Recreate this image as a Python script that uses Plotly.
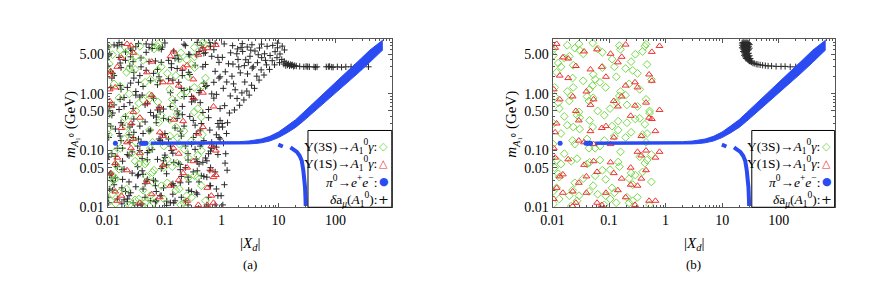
import plotly.graph_objects as go

# ---------------- data ----------------
# |X_d| positions used along rows of the scatter clouds
T1 = [0.0104, 0.0122, 0.0171, 0.0193, 0.0268, 0.0384, 0.0417, 0.0602, 0.0871, 0.0953, 0.139, 0.204, 0.231, 0.342, 0.487, 0.55, 0.81]
T2 = [0.0113, 0.0147, 0.0158, 0.0236, 0.0311, 0.0452, 0.0531, 0.0748, 0.108, 0.117, 0.166, 0.257, 0.297, 0.401, 0.62, 0.73, 0.9]
T3 = [0.0101, 0.0136, 0.0205, 0.0221, 0.0287, 0.0346, 0.0496, 0.0687, 0.0794, 0.126, 0.152, 0.188, 0.276, 0.373, 0.44, 0.67, 0.86]
T4 = [0.0118, 0.0129, 0.0182, 0.0252, 0.0279, 0.0402, 0.0565, 0.0637, 0.0912, 0.131, 0.144, 0.219, 0.318, 0.359, 0.52, 0.59, 0.77]
T5 = [0.0108, 0.0165, 0.0177, 0.0244, 0.0335, 0.0366, 0.0473, 0.0712, 0.0832, 0.101, 0.176, 0.196, 0.264, 0.421, 0.468, 0.64, 0.94]

# panel (a): delta a_mu crosses (m_A1 in GeV)
a_black_rows = [
    (T1, [0.012, 2.3, 0.31, 0.047, 5.8, 0.14, 0.021, 0.9, 3.6, 0.066, 0.017, 0.43, 7.1, 0.105, 1.55, 0.034, 0.19]),
    (T2, [0.27, 0.014, 4.4, 0.081, 1.1, 0.026, 6.6, 0.52, 0.039, 0.16, 2.8, 0.011, 0.72, 0.058, 8.0, 0.12, 1.9]),
    (T3, [3.1, 0.057, 0.019, 1.3, 0.36, 7.7, 0.092, 0.029, 2.0, 0.6, 0.013, 0.22, 4.9, 0.044, 0.13, 1.0, 0.016]),
    (T4, [0.088, 0.64, 0.031, 6.2, 0.17, 0.0115, 1.7, 0.41, 0.053, 3.4, 0.024, 0.27, 0.82, 0.071, 5.3, 0.015, 2.5]),
    (T5, [0.021, 1.4, 7.4, 0.26, 0.036, 0.1, 2.6, 0.013, 0.48, 0.075, 4.1, 0.18, 0.028, 1.15, 0.062, 6.9, 0.34]),
    (T3, [0.49, 0.033, 3.9, 0.0125, 0.21, 1.6, 0.069, 0.024, 6.4, 0.12, 0.77, 0.046, 2.2, 0.017, 0.3, 4.6, 0.085]),
    (T5, [5.1, 0.18, 0.046, 0.7, 0.011, 2.1, 0.029, 0.39, 0.15, 7.9, 0.06, 1.25, 0.02, 0.23, 3.0, 0.098, 0.55]),
    (T2, [0.04, 7.0, 0.2, 0.016, 0.95, 0.32, 3.7, 0.07, 0.0108, 1.85, 0.5, 0.034, 0.13, 5.6, 0.024, 0.84, 0.26]),
    (T4, [1.9, 0.025, 0.11, 4.5, 0.55, 0.044, 0.013, 0.84, 0.19, 2.9, 0.062, 7.5, 0.34, 0.018, 1.35, 0.088, 0.042]),
    (T1, [0.077, 0.46, 1.2, 0.0135, 0.29, 4.3, 0.038, 0.104, 6.1, 0.022, 1.75, 0.6, 0.05, 3.2, 0.15, 0.011, 0.98]),
    (T3, [0.015, 0.24, 5.5, 0.085, 2.4, 0.038, 0.68, 0.0125, 0.16, 1.05, 4.2, 0.027, 0.4, 0.064, 7.2, 0.11, 0.3]),
    (T5, [0.6, 3.5, 0.022, 0.14, 0.052, 0.88, 7.6, 0.31, 0.016, 0.2, 1.6, 0.035, 5.0, 0.12, 0.47, 0.024, 2.0]),
    (T2, [2.5, 0.11, 0.53, 0.028, 6.8, 0.015, 0.22, 1.45, 0.056, 3.9, 0.37, 0.088, 0.019, 1.05, 0.045, 6.0, 0.17]),
    (T4, [0.033, 7.3, 0.28, 1.55, 0.012, 0.072, 0.47, 2.3, 0.14, 0.025, 5.7, 0.9, 0.042, 0.2, 3.3, 0.53, 0.011]),
    (T1, [0.17, 0.02, 2.9, 0.6, 0.095, 0.011, 1.35, 6.3, 0.048, 0.37, 0.026, 2.6, 0.12, 0.78, 5.2, 0.066, 0.021]),
    (T3, [6.7, 0.079, 0.4, 0.014, 1.9, 0.16, 0.031, 3.8, 0.58, 0.012, 0.25, 0.057, 1.2, 8.1, 0.036, 0.14, 4.4]),
    (T5, [0.037, 0.8, 0.0115, 3.1, 0.12, 0.27, 5.4, 0.019, 1.7, 0.083, 0.44, 0.015, 2.4, 0.7, 6.5, 0.05, 0.16]),
    (T2, [1.3, 0.052, 8.0, 0.19, 0.023, 0.64, 0.1, 2.7, 0.0128, 0.35, 4.8, 0.068, 0.9, 0.028, 0.23, 1.6, 3.6]),
    (T4, [0.42, 2.1, 0.065, 0.018, 3.7, 0.95, 0.23, 0.03, 6.7, 0.1, 0.012, 1.15, 0.17, 4.9, 0.074, 0.38, 7.8]),
    (T1, [4.7, 0.029, 0.15, 0.86, 0.04, 3.0, 0.2, 7.5, 0.016, 0.54, 0.09, 2.1, 0.013, 0.28, 0.035, 1.4, 0.115]),
]
a_black_extra = [  # crosses beyond |X_d| ~ 1 : edge, wedge above the band, tail at ~3 GeV
    (1.05, 0.011), (1.12, 0.025), (1.25, 0.045), (1.18, 0.088), (1.08, 0.135), (1.22, 0.2),
    (1.02, 0.3), (0.98, 0.016), (1.15, 0.06),
    (1.04, 0.26), (1.07, 1.25), (1.03, 4.4), (1.13, 0.62), (1.16, 2.45), (1.11, 7.6), (1.27, 0.31),
    (1.23, 1.62), (1.37, 0.46), (1.42, 0.92), (1.44, 5.3), (1.52, 2.05), (1.58, 3.35), (1.56, 7.1),
    (1.68, 0.52), (1.73, 1.18), (1.87, 0.83), (1.94, 4.05), (1.91, 6.2), (2.07, 0.63), (2.13, 2.35),
    (2.27, 1.04), (2.34, 5.6), (2.31, 7.7), (2.46, 0.78), (2.55, 1.62), (2.51, 3.15), (2.77, 1.12),
    (2.85, 2.25), (2.82, 6.7), (3.05, 0.95), (3.15, 4.6), (3.36, 1.42), (3.45, 2.85), (3.41, 7.35),
    (3.78, 1.25), (3.85, 5.7), (4.15, 2.05), (4.26, 3.55), (4.55, 1.75), (4.63, 6.45), (4.95, 2.65),
    (5.05, 4.35), (5.02, 7.55), (5.55, 2.15), (5.68, 5.1), (6.15, 3.25), (6.3, 6.9), (6.95, 2.7),
    (7.1, 4.75), (7.75, 3.85), (7.9, 7.15), (8.5, 3.25), (8.7, 5.55), (9.4, 4.35), (9.6, 6.5),
    (9.55, 7.85), (10.4, 3.55), (10.6, 5.05), (11.4, 4.05), (11.6, 6.95), (12.4, 3.35), (12.6, 3.75),
    (12.7, 5.95), (13.4, 3.15), (13.6, 3.5), (1.62, 1.5), (2.0, 3.0), (2.65, 4.0), (3.6, 3.0),
    (4.4, 4.9), (5.9, 3.9), (1.32, 3.4), (1.85, 5.1), (2.2, 6.6), (3.25, 5.9), (2.95, 3.6),
    (14.4, 3.22), (14.9, 3.38), (15.6, 3.12), (16.3, 3.3), (16.9, 3.18), (17.7, 3.25), (18.4, 3.05),
    (19.2, 3.15), (20.5, 3.1), (23.5, 3.05), (27.8, 3.0), (30.5, 3.05), (32.5, 3.02), (34.8, 3.0),
    (42, 3.0), (44.5, 2.95), (47.5, 3.0), (69, 3.0), (75, 3.02), (79, 3.05), (86, 2.97), (91, 2.95),
    (108, 3.0), (128, 2.95), (152, 3.0), (188, 3.0), (218, 2.96), (248, 3.0), (285, 3.0), (380, 3.0),
]

U1 = [0.0112, 0.0158, 0.0263, 0.0312, 0.0611, 0.0782, 0.157, 0.243, 0.38]
U2 = [0.0129, 0.0214, 0.0241, 0.0477, 0.0758, 0.0964, 0.192, 0.297, 0.46]
U3 = [0.0106, 0.0166, 0.0351, 0.0418, 0.0649, 0.123, 0.166, 0.258, 0.52]
U4 = [0.0121, 0.0197, 0.0302, 0.0453, 0.0541, 0.111, 0.181, 0.331, 0.44]
U5 = [0.0103, 0.0138, 0.0238, 0.0367, 0.0559, 0.0871, 0.136, 0.219, 0.335]
a_green_rows = [
    (U1, [0.013, 0.85, 0.09, 4.6, 0.028, 0.31, 2.1, 0.016, 0.55]),
    (U2, [1.5, 0.021, 0.42, 0.064, 6.8, 0.12, 0.011, 3.3, 0.19]),
    (U3, [0.25, 5.9, 0.014, 0.78, 0.045, 1.2, 0.17, 0.033, 7.4]),
    (U4, [0.037, 0.16, 2.7, 0.012, 0.95, 0.07, 4.1, 0.48, 0.024]),
    (U5, [7.0, 0.056, 0.011, 0.36, 1.8, 0.024, 0.6, 0.105, 2.9]),
    (U1, [0.64, 0.018, 3.8, 0.14, 0.041, 7.7, 0.26, 1.1, 0.082]),
    (U2, [0.03, 2.4, 0.2, 0.0125, 0.72, 0.05, 5.3, 0.015, 1.4]),
    (U3, [3.4, 0.11, 0.68, 0.02, 6.2, 0.35, 0.06, 2.0, 0.013]),
    (U4, [0.017, 5.1, 0.065, 1.6, 0.23, 0.027, 0.13, 6.6, 0.39]),
    (U5, [0.43, 0.0115, 1.0, 0.087, 0.016, 3.0, 0.052, 0.22, 4.5]),
    (U1, [2.2, 0.047, 0.0105, 0.5, 0.14, 1.7, 0.02, 4.0, 0.034]),
    (U2, [0.092, 0.27, 6.0, 0.035, 2.6, 0.014, 0.95, 0.15, 7.9]),
    (U3, [0.026, 1.35, 0.058, 3.9, 0.012, 0.18, 0.44, 0.075, 1.9]),
    (U4, [4.9, 0.38, 0.0135, 0.058, 0.82, 2.3, 0.021, 1.3, 0.1]),
    (U5, [0.19, 0.032, 2.8, 6.9, 0.11, 0.42, 0.8, 0.012, 0.036]),
]
X1 = [0.0135, 0.0487, 0.143, 0.39, 0.72]
X2 = [0.0112, 0.0218, 0.0821, 0.211, 0.56]
X3 = [0.0173, 0.0366, 0.126, 0.318, 0.79]
X4 = [0.0147, 0.0592, 0.176, 0.47, 0.0281]
X5 = [0.0256, 0.0934, 0.248, 0.66, 0.0108]
a_red_rows = [
    (X1, [0.019, 0.7, 0.11, 4.9, 0.034]), (X2, [2.5, 0.045, 0.015, 0.33, 6.4]),
    (X3, [0.25, 0.012, 1.6, 0.065, 0.1]), (X4, [0.075, 3.7, 0.03, 1.05, 0.48]),
    (X5, [7.1, 0.18, 0.05, 0.016, 2.1]), (X1, [1.3, 0.028, 5.6, 0.2, 0.012]),
    (X2, [0.04, 0.14, 0.58, 2.9, 0.022]), (X3, [4.3, 0.38, 0.024, 0.85, 7.3]),
    (X4, [0.013, 0.95, 0.088, 6.2, 0.16]), (X5, [0.3, 0.055, 3.2, 0.12, 1.2]),
    (X1, [0.06, 2.4, 0.35, 0.011, 0.6]), (X2, [0.62, 7.6, 0.21, 0.04, 0.011]),
    (X3, [0.016, 0.09, 4.6, 1.8, 0.037]), (X4, [3.0, 0.017, 1.4, 0.26, 5.3]),
    (X5, [0.11, 1.6, 0.013, 0.045, 0.75]),
]

# panel (b)
V1 = [0.0104, 0.0131, 0.0232, 0.0271, 0.0523, 0.0689, 0.124, 0.152, 0.291, 0.43]
V2 = [0.0118, 0.0198, 0.0226, 0.0407, 0.0627, 0.0761, 0.145, 0.226, 0.348, 0.56]
V3 = [0.0109, 0.0161, 0.0247, 0.0302, 0.0566, 0.104, 0.134, 0.207, 0.39, 0.47]
V4 = [0.0126, 0.0141, 0.0293, 0.0441, 0.0512, 0.0871, 0.159, 0.245, 0.318, 0.52]
V5 = [0.0102, 0.0182, 0.0214, 0.0348, 0.0452, 0.0824, 0.113, 0.196, 0.262, 0.45]
b_green_rows = [
    (V1, [0.0115, 0.55, 3.2, 0.072, 0.024, 1.6, 0.18, 7.1, 0.037, 0.29]),
    (V2, [2.4, 0.016, 0.15, 0.9, 6.2, 0.045, 0.33, 0.012, 1.2, 0.085]),
    (V3, [0.05, 4.3, 0.027, 0.38, 0.11, 0.014, 2.0, 0.64, 5.6, 0.2]),
    (V4, [0.7, 0.2, 7.6, 0.019, 1.4, 0.031, 0.095, 3.7, 0.015, 0.46]),
    (V5, [0.13, 1.1, 0.0105, 5.1, 0.062, 0.42, 0.022, 0.17, 2.6, 0.8]),
    (V1, [4.8, 0.034, 0.26, 0.013, 0.85, 0.12, 3.0, 0.052, 0.36, 6.9]),
    (V2, [0.022, 0.75, 1.9, 0.058, 0.017, 5.4, 0.23, 1.5, 0.078, 0.028]),
    (V3, [1.3, 0.088, 6.4, 0.24, 0.036, 0.55, 0.012, 0.31, 0.042, 3.3]),
    (V4, [0.039, 3.0, 0.48, 0.11, 7.9, 0.016, 1.1, 0.21, 0.6, 0.011]),
    (V5, [6.0, 0.28, 0.065, 1.7, 0.34, 0.011, 4.1, 0.95, 0.025, 0.14]),
    (V1, [0.3, 0.014, 1.3, 0.42, 2.2, 0.068, 0.018, 0.92, 5.0, 0.06]),
    (V2, [0.068, 4.6, 0.02, 0.16, 0.5, 2.9, 0.063, 0.032, 0.37, 1.8]),
    (V3, [0.9, 0.4, 0.13, 5.9, 1.8, 0.046, 0.7, 0.015, 0.19, 0.068]),
    (V4, [3.5, 0.058, 0.016, 0.75, 0.26, 1.3, 6.1, 0.04, 2.3, 0.5]),
    (V5, [0.019, 7.2, 0.92, 0.032, 1.2, 0.15, 0.27, 2.8, 0.013, 7.5]),
]
W1 = [0.0105, 0.0227, 0.0468, 0.106, 0.241, 0.57]
W2 = [0.0134, 0.0291, 0.0612, 0.143, 0.318, 0.78]
W3 = [0.0118, 0.0189, 0.0532, 0.088, 0.196, 0.45]
W4 = [0.0152, 0.0361, 0.0743, 0.121, 0.287, 0.66]
W5 = [0.0111, 0.0258, 0.0397, 0.167, 0.372, 0.51]
b_red_rows = [
    (W1, [0.014, 0.9, 0.22, 5.1, 0.05, 0.36]), (W2, [2.1, 0.027, 0.012, 0.6, 0.095, 7.0]),
    (W3, [0.3, 4.2, 0.065, 0.018, 1.4, 0.045]), (W4, [0.038, 0.14, 3.0, 0.75, 0.011, 0.22]),
    (W5, [6.5, 0.5, 1.1, 0.032, 0.18, 0.013]), (W1, [0.11, 0.019, 2.7, 0.062, 0.41, 1.7]),
    (W2, [0.8, 0.15, 0.042, 3.6, 0.024, 0.52]), (W3, [0.022, 1.9, 0.8, 0.27, 7.4, 0.1]),
    (W4, [4.4, 0.056, 0.011, 0.17, 0.62, 0.075]), (W5, [0.075, 3.1, 0.018, 0.9, 0.032, 2.2]),
    (W1, [1.2, 0.0105, 0.64, 0.13, 0.025, 5.5]), (W2, [0.035, 0.34, 6.1, 0.02, 1.3, 0.095]),
    (W3, [7.6, 0.07, 0.13, 2.0, 0.015, 0.7]), (W4, [0.018, 5.6, 0.25, 0.04, 1.6, 0.013]),
    (W5, [0.21, 0.012, 0.035, 4.5, 0.082, 0.38]),
]
b_black_cols = [
    (22.5, [7.9, 7.2, 6.5]), (23.5, [8.1, 7.6, 6.9, 6.2, 5.6]),
    (24.5, [8.0, 7.4, 6.7, 6.0, 5.3, 4.8]), (25.5, [7.9, 7.2, 6.4, 5.7, 5.0, 4.5]),
    (26.5, [8.1, 7.5, 6.8, 6.1, 5.4, 4.7, 4.2]), (27.5, [7.8, 7.0, 6.3, 5.6, 4.9, 4.3]),
    (28.5, [8.0, 7.3, 6.6, 5.9, 5.1, 4.4, 4.0]), (29.5, [7.7, 6.9, 6.0, 5.2, 4.5, 3.9]),
    (30.5, [7.4, 6.4, 4.7, 4.1, 3.8]), (31.5, [4.2, 3.75]),
    (33, [3.65]), (35, [3.5]), (37, [3.45]), (40, [3.35]), (43, [3.3]), (47, [3.25]),
    (52, [3.2]), (58, [3.15]), (65, [3.1]), (75, [3.1]), (90, [3.05]), (110, [3.05]),
    (130, [3.05]), (160, [3.0]), (200, [3.0]), (250, [3.0]),
]

# pi0 -> e+ e- allowed band (same in both panels)
blue_dot_x = [0.0136, 0.039, 0.0415, 0.044, 0.047]
blue_dot_m = [0.135, 0.135, 0.135, 0.135, 0.135]
blue_x = [0.057, 0.1, 0.3, 1, 2, 3, 4, 5, 7, 10, 14, 20, 27, 40, 60, 100, 150, 250, 400, 680]
blue_m = [0.135, 0.135, 0.135, 0.135, 0.136, 0.139, 0.143, 0.148, 0.162, 0.19, 0.235,
          0.30, 0.39, 0.56, 0.80, 1.29, 1.85, 2.95, 4.6, 7.3]
blue_spread = [1.05, 1.05, 1.05, 1.05, 1.055, 1.06, 1.07, 1.08, 1.1, 1.12, 1.15,
               1.17, 1.19, 1.21, 1.23, 1.25, 1.26, 1.27, 1.28, 1.22]
low_x = [9.9, 11.9, None, 16.2, 18.5, 21, 23.5, 25.6, 27.3, 28.4, 29.2, 29.7, 30.0]
low_m = [0.127, 0.118, None, 0.114, 0.106, 0.095, 0.081, 0.066, 0.044, 0.032, 0.0226, 0.015, 0.0105]

x_tick_vals = [0.01, 0.1, 1, 10, 100]
x_tick_text = ["0.01", "0.1", "1", "10", "100"]
y_tick_vals = [0.01, 0.05, 0.1, 0.5, 1, 5]
y_tick_text = ["0.01", "0.05", "0.10", "0.50", "1.00", "5.00"]

legend_rows = [
    ("Υ(3S)→<i>A</i><sub>1</sub><sup>0</sup><i>γ</i>:", "◇", "#77d94a"),
    ("Υ(1S)→<i>A</i><sub>1</sub><sup>0</sup><i>γ</i>:", "△", "#f03030"),
    ("<i>π</i><sup>0</sup>→<i>e</i><sup>+</sup><i>e</i><sup>−</sup>:", "●", "#2a4bf2"),
    ("<i>δ</i>a<sub><i>μ</i></sub>(<i>A</i><sub>1</sub><sup>0</sup>):", "+", "#111111"),
]

# ---------------- figure ----------------
W, H = 872, 286
GREEN, RED, BLUE, BLACK = "#77d94a", "#f03030", "#2a4bf2", "#2a2a2a"
FONT = "Liberation Serif"


def from_rows(rows):
    xs, ys = [], []
    for rx, rm in rows:
        for x, m in zip(rx, rm):
            xs.append(x)
            ys.append(m)
    return xs, ys


def from_pairs(pairs):
    return [p[0] for p in pairs], [p[1] for p in pairs]


def from_cols(cols):
    xs, ys = [], []
    for x, ms in cols:
        for m in ms:
            xs.append(x)
            ys.append(m)
    return xs, ys


fig = go.Figure()


def add_panel(xa, ya, green, red, black):
    gx, gy = green
    rx, ry = red
    kx, ky = black
    fig.add_trace(go.Scatter(x=kx, y=ky, mode="markers", xaxis=xa, yaxis=ya,
                             marker=dict(symbol="cross-thin-open", size=4.5, color=BLACK,
                                         line=dict(width=1, color=BLACK))))
    fig.add_trace(go.Scatter(x=gx, y=gy, mode="markers", xaxis=xa, yaxis=ya,
                             marker=dict(symbol="diamond-open", size=6, color=GREEN,
                                         line=dict(width=1, color=GREEN))))
    fig.add_trace(go.Scatter(x=rx, y=ry, mode="markers", xaxis=xa, yaxis=ya,
                             marker=dict(symbol="triangle-up-open", size=6, color=RED,
                                         line=dict(width=1, color=RED))))
    lo = [m / s for m, s in zip(blue_m, blue_spread)]
    hi = [m * s for m, s in zip(blue_m, blue_spread)]
    fig.add_trace(go.Scatter(x=blue_x, y=lo, mode="lines", xaxis=xa, yaxis=ya,
                             line=dict(width=1, color=BLUE)))
    fig.add_trace(go.Scatter(x=blue_x, y=hi, mode="lines", xaxis=xa, yaxis=ya,
                             fill="tonexty", fillcolor=BLUE,
                             line=dict(width=1, color=BLUE)))
    fig.add_trace(go.Scatter(x=blue_dot_x, y=blue_dot_m, mode="markers", xaxis=xa, yaxis=ya,
                             marker=dict(symbol="circle", size=5, color=BLUE)))
    fig.add_trace(go.Scatter(x=low_x, y=low_m, mode="lines", xaxis=xa, yaxis=ya,
                             line=dict(width=4, color=BLUE)))


kx_a, ky_a = from_rows(a_black_rows)
ex, ey = from_pairs(a_black_extra)
add_panel("x", "y", from_rows(a_green_rows), from_rows(a_red_rows), (kx_a + ex, ky_a + ey))
add_panel("x2", "y2", from_rows(b_green_rows), from_rows(b_red_rows), from_cols(b_black_cols))

ydom = [1 - 205 / H, 1 - 32 / H]
x_minor = [k * 10 ** d for d in range(-2, 3) for k in range(2, 10)]
y_minor = [k * 10 ** d for d in range(-2, 1) for k in (2, 3, 4, 6, 7, 8, 9)]

axis_common = dict(type="log", showline=True, linecolor="#555", linewidth=1,
                   mirror="ticks", ticks="inside", ticklen=4, tickcolor="#555",
                   showgrid=False, zeroline=False,
                   tickfont=dict(family=FONT, size=14, color="black"))
xax = dict(axis_common, range=[-2, 2.99], tickvals=x_tick_vals, ticktext=x_tick_text,
           minor=dict(tickvals=x_minor, ticks="inside", ticklen=2, tickcolor="#555"))
yax = dict(axis_common, range=[-2, 0.966], tickvals=y_tick_vals, ticktext=y_tick_text,
           minor=dict(tickvals=y_minor, ticks="inside", ticklen=2, tickcolor="#555"))

fig.update_layout(
    width=W, height=H, margin=dict(l=0, r=0, t=0, b=0),
    paper_bgcolor="white", plot_bgcolor="white", showlegend=False,
    xaxis=dict(xax, domain=[89 / W, 377 / W], anchor="y"),
    yaxis=dict(yax, domain=ydom, anchor="x"),
    xaxis2=dict(xax, domain=[540 / W, 826 / W], anchor="y2"),
    yaxis2=dict(yax, domain=ydom, anchor="x2"),
)

shapes, anns = [], []
for (x0, x1, ytl, cx, lab) in [(292, 377, 51, 233, "(a)"), (742, 826, 499, 683, "(b)")]:
    shapes.append(dict(type="rect", xref="paper", yref="paper", layer="above",
                       x0=x0 / W, x1=x1 / W, y0=1 - 205 / H, y1=1 - 126 / H,
                       fillcolor="white", line=dict(color="black", width=1)))
    for i, (txt, sym, col) in enumerate(legend_rows):
        yc = 1 - (142 + 18.3 * i) / H
        anns.append(dict(xref="paper", yref="paper", x=(x1 - 13) / W, y=yc,
                         xanchor="right", yanchor="middle", showarrow=False, text=txt,
                         font=dict(family=FONT, size=13.5, color="black")))
        anns.append(dict(xref="paper", yref="paper", x=(x1 - 8) / W, y=yc,
                         xanchor="center", yanchor="middle", showarrow=False, text=sym,
                         font=dict(family="DejaVu Sans", size=11 if sym != "+" else 13,
                                   color=col)))
    anns.append(dict(xref="paper", yref="paper", x=ytl / W, y=1 - 120 / H,
                     xanchor="center", yanchor="middle", showarrow=False, textangle=-90,
                     text="<i>m</i><sub><i>A</i>₁⁰</sub> (GeV)",
                     font=dict(family=FONT, size=15, color="black")))
    anns.append(dict(xref="paper", yref="paper", x=cx / W, y=1 - 243 / H,
                     xanchor="center", yanchor="middle", showarrow=False,
                     text="|<i>X<sub>d</sub></i>|",
                     font=dict(family=FONT, size=15, color="black")))
    anns.append(dict(xref="paper", yref="paper", x=cx / W, y=1 - 264 / H,
                     xanchor="center", yanchor="middle", showarrow=False, text=lab,
                     font=dict(family=FONT, size=13, color="black")))

fig.update_layout(shapes=shapes, annotations=anns)
fig.write_html("out.html")
